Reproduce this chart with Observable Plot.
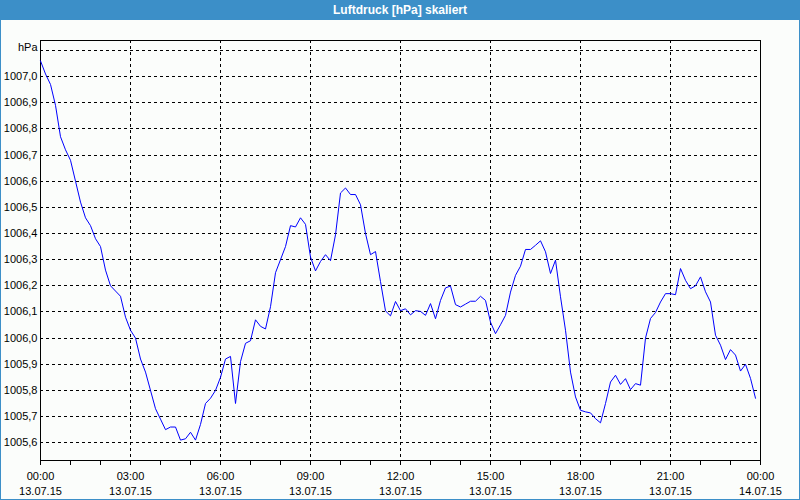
<!DOCTYPE html>
<html>
<head>
<meta charset="utf-8">
<script src="https://cdn.jsdelivr.net/npm/d3@7"></script>
<script src="https://cdn.jsdelivr.net/npm/@observablehq/plot@0.6"></script>
<style>
  html, body { margin: 0; padding: 0; background: #fbfdfb; }
  #wrap { position: relative; width: 800px; height: 500px; background: #fbfdfb; overflow: hidden;
          font-family: "Liberation Sans", Arial, sans-serif; }
  #title { height: 20px; background: #3c8fc8; color: #fff; font-weight: bold; font-size: 12px;
           line-height: 20px; text-align: center; }
  #chart { position: absolute; left: 0; top: 20px; }
  #border { position: absolute; left: 0; top: 0; width: 800px; height: 500px; box-sizing: border-box;
            border: 1px solid #3c8fc8; pointer-events: none; }
</style>
</head>
<body>
<div id="wrap">
  <div id="title">Luftdruck [hPa] skaliert</div>
  <div id="chart"></div>
  <div id="border"></div>
</div>
<script>
// ---- data (one value every 10 minutes, 13.07.15 00:00 – 23:50) ----
const startDate = Date.UTC(2015, 6, 13, 0, 0);
const stepMinutes = 10;
const pressure = [
  1007.06, 1007.01, 1006.97, 1006.89, 1006.77, 1006.72,   // 00
  1006.68, 1006.60, 1006.52, 1006.46, 1006.43, 1006.38,   // 01
  1006.35, 1006.26, 1006.20, 1006.18, 1006.16, 1006.08,   // 02
  1006.03, 1006.00, 1005.92, 1005.87, 1005.80, 1005.73,   // 03
  1005.69, 1005.65, 1005.66, 1005.66, 1005.61, 1005.615,  // 04
  1005.64, 1005.61, 1005.67, 1005.75, 1005.77, 1005.80,   // 05
  1005.85, 1005.92, 1005.93, 1005.75, 1005.91, 1005.98,   // 06
  1005.99, 1006.07, 1006.045, 1006.035, 1006.12, 1006.25, // 07
  1006.30, 1006.35, 1006.43, 1006.425, 1006.46, 1006.435, // 08
  1006.31, 1006.257, 1006.293, 1006.319, 1006.296, 1006.395, // 09
  1006.555, 1006.574, 1006.549, 1006.549, 1006.51, 1006.40,  // 10
  1006.319, 1006.331, 1006.216, 1006.104, 1006.085, 1006.14, // 11
  1006.105, 1006.112, 1006.089, 1006.105, 1006.102, 1006.087, // 12
  1006.132, 1006.074, 1006.144, 1006.192, 1006.199, 1006.128, // 13
  1006.119, 1006.13, 1006.141, 1006.141, 1006.16, 1006.144,   // 14
  1006.061, 1006.017, 1006.051, 1006.087, 1006.176, 1006.24,  // 15
  1006.275, 1006.339, 1006.339, 1006.355, 1006.372, 1006.33,  // 16
  1006.247, 1006.298, 1006.158, 1006.03, 1005.87, 1005.775,   // 17
  1005.724, 1005.718, 1005.714, 1005.692, 1005.676, 1005.75,  // 18
  1005.832, 1005.858, 1005.823, 1005.845, 1005.803, 1005.826, // 19
  1005.82, 1006.0, 1006.075, 1006.098, 1006.138, 1006.17,     // 20
  1006.17, 1006.166, 1006.266, 1006.221, 1006.189, 1006.2,    // 21
  1006.234, 1006.177, 1006.138, 1006.011, 1005.973, 1005.918, // 22
  1005.956, 1005.935, 1005.874, 1005.9, 1005.846, 1005.77     // 23
];

const yTicks = [1005.6, 1005.7, 1005.8, 1005.9, 1006.0, 1006.1, 1006.2, 1006.3, 1006.4, 1006.5, 1006.6, 1006.7, 1006.8, 1006.9, 1007.0];
const yTickLabels = ["1005,6", "1005,7", "1005,8", "1005,9", "1006,0", "1006,1", "1006,2", "1006,3", "1006,4", "1006,5", "1006,6", "1006,7", "1006,8", "1006,9", "1007,0"];
const yUnitTick = 1007.1;
const yUnitLabel = "hPa";
const yDomain = [1005.532, 1007.138];

const xTickHours = [0, 1, 2, 3, 4, 5, 6, 7, 8, 9, 10, 11, 12, 13, 14, 15, 16, 17, 18, 19, 20, 21, 22, 23, 24];
const xLabelHours = [0, 3, 6, 9, 12, 15, 18, 21, 24];
const xTimeLabels = ["00:00", "03:00", "06:00", "09:00", "12:00", "15:00", "18:00", "21:00", "00:00"];
const xDateLabels = ["13.07.15", "13.07.15", "13.07.15", "13.07.15", "13.07.15", "13.07.15", "13.07.15", "13.07.15", "14.07.15"];

// ---- build tables ----
const hourDate = h => new Date(startDate + h * 3600000);
const data = pressure.map((v, i) => ({time: new Date(startDate + i * stepMinutes * 60000), value: v}));
const yGrid = [...yTicks, yUnitTick];
const yLabels = yTicks.map((v, i) => ({v, label: yTickLabels[i]}));
const xLabels = xLabelHours.map((h, i) => ({time: hourDate(h), label: xTimeLabels[i] + "\n" + xDateLabels[i]}));
const xGrid = xLabelHours.slice(1, -1).map(hourDate);
const xTicks = xTickHours.map(hourDate);

const chart = Plot.plot({
  width: 800,
  height: 480,
  marginTop: 20,
  marginBottom: 40,
  marginLeft: 40,
  marginRight: 40,
  style: {background: "transparent", color: "#000", fontFamily: "'Liberation Sans', Arial, sans-serif", fontSize: "11px"},
  x: {type: "utc", domain: [hourDate(0), hourDate(24)], axis: null},
  y: {domain: yDomain, axis: null},
  marks: [
    Plot.ruleY(yGrid, {stroke: "#000", strokeDasharray: "3,3", shapeRendering: "crispEdges"}),
    Plot.ruleX(xGrid, {stroke: "#000", strokeDasharray: "3,3", shapeRendering: "crispEdges"}),
    Plot.frame({stroke: "#000", shapeRendering: "crispEdges"}),
    Plot.lineY(data, {x: "time", y: "value", stroke: "#0000ff", strokeWidth: 1}),
    Plot.axisX(xTicks, {tickSize: 5, tickFormat: () => "", label: null, stroke: "#000", strokeOpacity: 1}),
    Plot.text(xLabels, {x: "time", text: "label", frameAnchor: "bottom", lineAnchor: "top", dy: 9, lineHeight: 1.36, fill: "#000"}),
    Plot.text(yLabels, {y: "v", text: "label", frameAnchor: "left", textAnchor: "end", dx: -3, fill: "#000"}),
    Plot.text([yUnitTick], {y: d => d, text: () => yUnitLabel, frameAnchor: "left", textAnchor: "end", dx: -3, dy: -3, fill: "#000"})
  ]
});
document.getElementById("chart").appendChild(chart);
</script>
</body>
</html>
